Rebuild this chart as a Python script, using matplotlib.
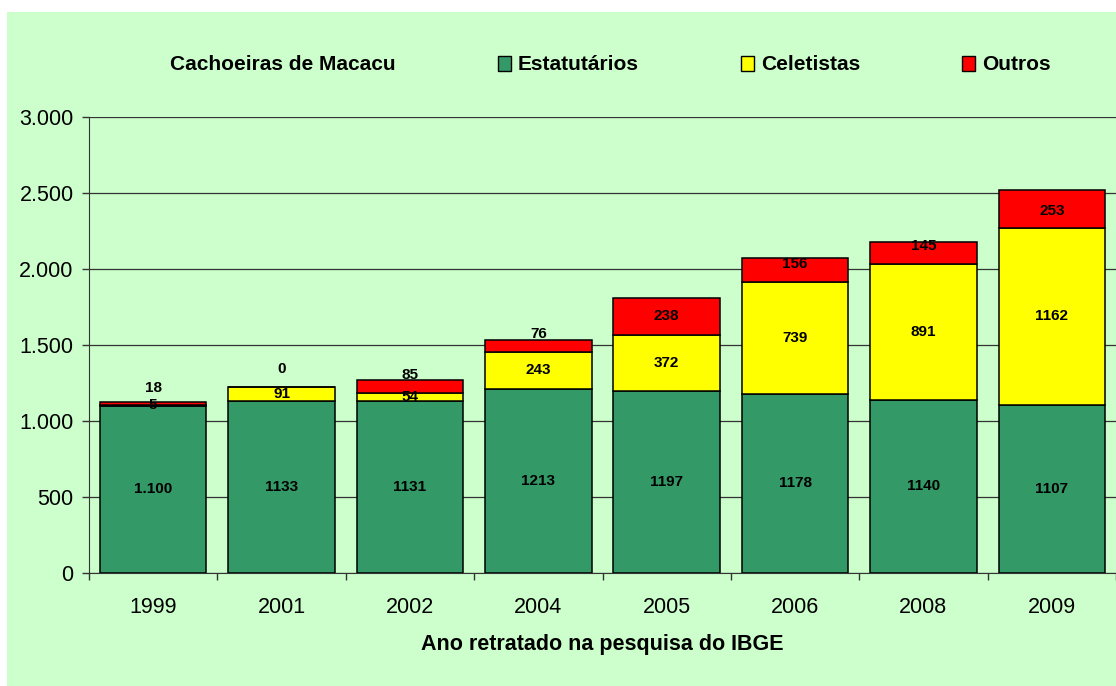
import matplotlib
matplotlib.use('Agg')
import matplotlib.pyplot as plt
from matplotlib.patches import Patch, Rectangle
import numpy as np

plt.rcParams['font.family'] = ['Liberation Sans', 'DejaVu Sans']

anos = ['1999', '2001', '2002', '2004', '2005', '2006', '2008', '2009']
estatutarios = [1100, 1133, 1131, 1213, 1197, 1178, 1140, 1107]
celetistas = [5, 91, 54, 243, 372, 739, 891, 1162]
outros = [18, 0, 85, 76, 238, 156, 145, 253]
rotulos_est = ['1.100', '1133', '1131', '1213', '1197', '1178', '1140', '1107']
yticks = [0, 500, 1000, 1500, 2000, 2500, 3000]
ytick_labels = ['0', '500', '1.000', '1.500', '2.000', '2.500', '3.000']

# small upward nudges (points) Excel applied to the red labels
nudge_outros = [11.5, 13, 8, 8.5, 0, 4.5, 5, -1.5]

cor_est = '#339966'
cor_cel = '#FFFF00'
cor_out = '#FF0000'
fundo = '#CCFFCC'

fig = plt.figure(figsize=(11.16, 6.86), dpi=100)
fig.patch.set_facecolor('white')
fig.patches.append(Rectangle((7 / 1116, 0), 1 - 7 / 1116, 1 - 12 / 686,
                             transform=fig.transFigure, facecolor=fundo,
                             edgecolor='none', zorder=-10))

ax = fig.add_axes([89 / 1116, 113 / 686, 1 - 89 / 1116, 456 / 686])
ax.set_facecolor(fundo)
ax.set_zorder(1)

x = np.arange(len(anos))
est = np.array(estatutarios)
cel = np.array(celetistas)
out = np.array(outros)
w = 0.83
kw = dict(width=w, edgecolor='black', linewidth=1.1, zorder=3)
ax.bar(x, est, color=cor_est, **kw)
ax.bar(x, cel, bottom=est, color=cor_cel, **kw)
ax.bar(x, out, bottom=est + cel, color=cor_out, **kw)

lab = dict(ha='center', va='center', fontsize=11, fontweight='bold', zorder=5)
for i in range(len(anos)):
    ax.text(x[i], est[i] / 2, rotulos_est[i], **lab)
    ax.text(x[i], est[i] + cel[i] / 2, str(celetistas[i]), **lab)
    ax.annotate(str(outros[i]), (x[i], est[i] + cel[i] + out[i] / 2),
                xytext=(0, nudge_outros[i]), textcoords='offset points', **lab)

ax.set_xlim(-0.5, len(anos) - 0.5)
ax.set_ylim(0, 3000)
ax.set_yticks(yticks)
ax.set_yticklabels(ytick_labels)
ax.yaxis.grid(True, color='#333333', linewidth=0.9, zorder=1)
ax.set_axisbelow(True)

ax.set_xticks(x)
ax.set_xticklabels(anos)
ax.set_xticks(np.arange(-0.5, len(anos), 1.0), minor=True)
ax.tick_params(axis='x', which='major', length=0, pad=17, labelsize=15.5)
ax.tick_params(axis='x', which='minor', length=5, width=1, color='#333333', direction='out')
ax.tick_params(axis='y', length=5, width=1, color='#333333', pad=6, labelsize=15.5)

for s in ['top', 'right']:
    ax.spines[s].set_visible(False)
ax.spines['left'].set_color('#333333')
ax.spines['bottom'].set_color('#333333')

ax.set_xlabel('Ano retratado na pesquisa do IBGE', fontsize=15.5, fontweight='bold', labelpad=12)

handles = [Patch(facecolor='none', edgecolor='none'),
           Patch(facecolor=cor_est, edgecolor='black', linewidth=1),
           Patch(facecolor=cor_cel, edgecolor='black', linewidth=1),
           Patch(facecolor=cor_out, edgecolor='black', linewidth=1)]
names = ['Cachoeiras de Macacu', 'Estatutários', 'Celetistas', 'Outros']
fig.legend(handles, names, loc='center left', bbox_to_anchor=(150 / 1116, 1 - 65 / 686),
           ncol=4, frameon=False, prop={'weight': 'bold', 'size': 15},
           handlelength=0.63, handleheight=0.7, handletextpad=0.33,
           columnspacing=4.9, borderpad=0, borderaxespad=0)

fig.savefig('out.png', dpi=100, facecolor='white')
